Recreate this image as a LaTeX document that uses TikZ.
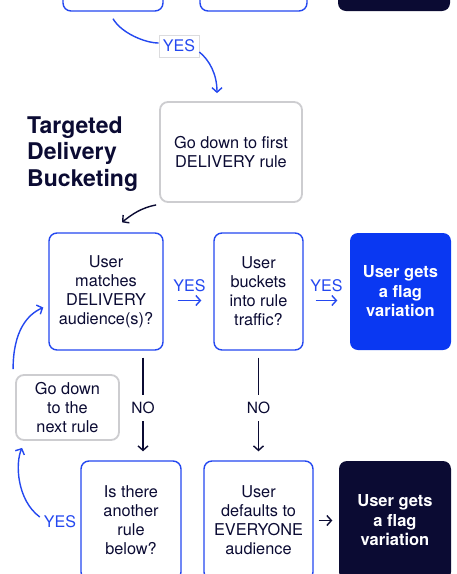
\documentclass[tikz,border=0pt]{standalone}
\usepackage{fontspec}
\setmainfont{TeX Gyre Heros}
\usetikzlibrary{arrows.meta,calc}
\definecolor{lineblue}{HTML}{2448F0}
\definecolor{fillblue}{HTML}{0A38F2}
\definecolor{navy}{HTML}{0B0B33}
\definecolor{softgray}{HTML}{CDCDD0}
\tikzset{
  box/.style={draw=lineblue, line width=1.4pt, rounded corners=8pt, inner sep=0pt,
    align=center, text=navy, font=\fontsize{16.3}{19}\selectfont},
  graybox/.style={box, draw=softgray, line width=1.8pt},
  fillbox/.style={box, draw=none, fill=fillblue, text=white,
    font=\bfseries\fontsize{16.5}{19.5}\selectfont},
  darkbox/.style={fillbox, fill=navy},
  yeslbl/.style={text=lineblue, inner sep=0pt, font=\fontsize{16}{18}\selectfont},
  nolbl/.style={text=navy, inner sep=0pt, font=\fontsize{15.5}{18}\selectfont},
  tip/.style={-{Straight Barb[length=4.5pt,width=10pt]}},
  blueline/.style={draw=lineblue, line width=1.4pt},
  navyline/.style={draw=navy, line width=1.4pt}
}
\begin{document}
\begin{tikzpicture}[x=1pt,y=-1pt]
\useasboundingbox (0,0) rectangle (456,574);
\clip (0,0) rectangle (456,574);
\fill[white] (0,0) rectangle (456,574);

% row of the previous stage, running off the top
\node[box, minimum width=100, minimum height=118] (t1) at (113,-48) {};
\node[box, minimum width=107, minimum height=118] (t2) at (253.5,-48) {};
\node[darkbox, minimum width=112, minimum height=118] (t3) at (394,-48) {};

% heading
\node[anchor=west, align=left, text=navy, inner sep=0pt,
      font=\bfseries\fontsize{23}{26.5}\selectfont] (title) at (27,154)
  {Targeted\\Delivery\\Bucketing};

% boxes
\node[graybox, minimum width=142, minimum height=100] (g1) at (231,152)
  {Go down to first\\DELIVERY rule};
\node[box, minimum width=114, minimum height=117] (m1) at (106,291.5)
  {User\\matches\\DELIVERY\\audience(s)?};
\node[box, minimum width=89, minimum height=117] (m2) at (258.5,291.5)
  {User\\buckets\\into rule\\traffic?};
\node[fillbox, minimum width=101, minimum height=117] (v1) at (400.5,291.5)
  {User gets\\a flag\\variation};
\node[graybox, minimum width=103, minimum height=65] (nx) at (67.5,407.5)
  {Go down\\to the\\next rule};
\node[box, minimum width=100, minimum height=119] (b1) at (131,520.5)
  {Is there\\another\\rule\\below?};
\node[box, minimum width=109, minimum height=119] (b2) at (258.5,520.5)
  {User\\defaults to\\EVERYONE\\audience};
\node[darkbox, minimum width=112, minimum height=119] (d1) at (395,520.5)
  {User gets\\a flag\\variation};

% YES from the previous stage
\node[yeslbl, draw=softgray!70, line width=0.6pt, fill=white, inner xsep=4pt, inner ysep=5pt] (y0) at (179,46) {YES};
\draw[blueline] ([yshift=-7]t1.south) .. controls +(8,14) and +(-14,0) .. ([yshift=3]y0.west);
\draw[blueline, tip] ([yshift=-6]y0.east) .. controls +(10,8) and +(0,-19) .. ([xshift=-14,yshift=8]g1.north);

% into the first rule
\draw[navyline, tip] ([xshift=-3,yshift=-2]g1.south west) .. controls +(-15,3) and +(10,-8) .. ([xshift=16,yshift=10]m1.north);

% YES arrows along the rule row
\draw[blueline, tip] ([xshift=14,yshift=-9]m1.east) -- node[yeslbl, above=8pt] (y1) {YES} ([xshift=-12,yshift=-9]m2.west);
\draw[blueline, tip] ([xshift=12,yshift=-9]m2.east) -- node[yeslbl, above=8pt] (y2) {YES} ([xshift=-12,yshift=-9]v1.west);

% NO branches
\node[nolbl] (n1) at (143,408) {NO};
\node[nolbl] (n2) at (258.5,408) {NO};
\draw[navyline] ([yshift=-7]m1.south -| n1) -- ([yshift=7]n1.north);
\draw[navyline, tip] ([yshift=-7]n1.south) -- ([yshift=9]b1.north -| n1);
\draw[navyline] ([yshift=-7]m2.south -| n2) -- ([yshift=7]n2.north);
\draw[navyline, tip] ([yshift=-7]n2.south) -- ([yshift=9]b2.north -| n2);

% default audience result
\draw[navyline, tip] ([xshift=5]b2.east) -- ([xshift=-6]d1.west);

% loop back to the next rule
\node[yeslbl] (y3) at (60,522) {YES};
\draw[blueline, tip] ([xshift=-4,yshift=5]y3.west) .. controls +(-23,-17) and +(-7,15) .. ([xshift=7,yshift=-7]nx.south west);
\draw[blueline, tip] ([xshift=-2,yshift=5]nx.north west) .. controls +(0,-38) and +(-16,7) .. ([xshift=-5,yshift=-16]m1.west);
\end{tikzpicture}
\end{document}
